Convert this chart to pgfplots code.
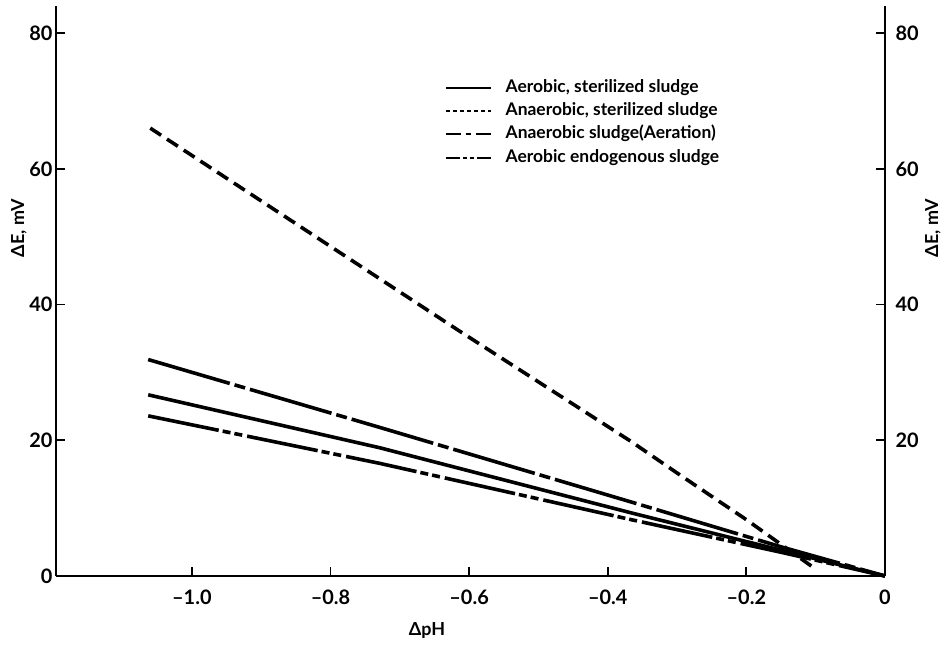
\documentclass[border=0pt]{standalone}
\usepackage{pgfplots}
\pgfplotsset{compat=1.18}
\usepackage{fontspec}
\setmainfont{Lato}

\pgfplotstableread{
x y
-1.063 26.7
-0.729 18.9
-0.366 9.3
-0.150 3.8
0 0
}\aerosterile

\pgfplotstableread{
x y
-1.060 66.0
-0.617 36.3
-0.366 19.8
-0.296 14.9
-0.200 8.3
-0.104 1.3
}\anaerosterile

\pgfplotstableread{
x y
-1.063 31.9
-0.729 21.9
-0.366 10.9
-0.150 4.3
0 0
}\anaeroaeration

\pgfplotstableread{
x y
-1.063 23.6
-0.729 16.6
-0.366 8.3
-0.150 3.5
0 0
}\aeroendo

\begin{document}
\begin{tikzpicture}
\useasboundingbox (-56bp,-69bp) rectangle (892bp,576bp);
\begin{axis}[
  scale only axis, width=829bp, height=570bp,
  xmin=-1.196, xmax=0, ymin=0, ymax=84,
  axis x line*=bottom, axis y line*=left,
  axis line style={line width=2.6bp, -},
  tick align=inside, major tick length=9bp,
  tick style={line width=1.8bp, black},
  xtick={-1,-0.8,-0.6,-0.4,-0.2,0},
  xticklabels={\textendash1.0,\textendash0.8,\textendash0.6,\textendash0.4,\textendash0.2,0},
  ytick={0,20,40,60,80}, yticklabels={0,20,40,60,80},
  tick label style={font=\fontsize{20}{24}\selectfont\bfseries},
  xticklabel style={yshift=-10bp},
  label style={font=\fontsize{18}{22}\selectfont\bfseries},
  xlabel={ΔpH},
  xlabel style={at={(axis description cs:0.4475,0)}, anchor=center, yshift=-55bp},
  ylabel={ΔE, mV},
  ylabel style={at={([xshift=-37bp]axis description cs:0,0.61)}, anchor=center},
  clip=false,
  legend style={at={(axis description cs:0.4656,0.878)}, anchor=north west, draw=none, fill=none,
    font=\fontsize{17.5}{21}\selectfont\bfseries, row sep=3.3bp,
    nodes={inner sep=1.5bp, text height=13bp, text depth=4bp},
    /tikz/every odd column/.append style={column sep=12bp}},
  legend cell align=left,
]
\addplot[black, line width=3.6bp, forget plot] table {\aerosterile};
\addplot[black, line width=3.6bp, dash pattern=on 13bp off 7bp, forget plot] table {\anaerosterile};
\addplot[black, line width=3.6bp, dash pattern=on 85bp off 5bp on 11bp off 5bp, forget plot] table {\anaeroaeration};
\addplot[black, line width=3.6bp, dash pattern=on 72bp off 4bp on 8bp off 4bp on 8bp off 5bp, forget plot] table {\aeroendo};

\addlegendimage{legend image code/.code={\draw[black, line width=2bp] (0bp,0bp) -- (45bp,0bp);}}
\addlegendentry{Aerobic, sterilized sludge}
\addlegendimage{legend image code/.code={\draw[black, line width=2bp, dash pattern=on 4bp off 3bp] (0bp,0bp) -- (45bp,0bp);}}
\addlegendentry{Anaerobic, sterilized sludge}
\addlegendimage{legend image code/.code={\draw[black, line width=2bp, dash pattern=on 15bp off 5bp on 5bp off 5bp] (0bp,0bp) -- (45bp,0bp);}}
\addlegendentry{Anaerobic sludge(Aeration)}
\addlegendimage{legend image code/.code={\draw[black, line width=2bp, dash pattern=on 14bp off 3bp on 4bp off 3bp on 4bp off 3bp] (0bp,0bp) -- (45bp,0bp);}}
\addlegendentry{Aerobic endogenous sludge}
\end{axis}
\begin{axis}[
  scale only axis, width=829bp, height=570bp,
  xmin=-1.196, xmax=0, ymin=0, ymax=84,
  axis x line=none, axis y line*=right,
  axis line style={line width=2.6bp, -},
  tick align=inside, major tick length=9bp,
  tick style={line width=1.8bp, black},
  ytick={20,40,60,80}, yticklabels={20,40,60,80},
  tick label style={font=\fontsize{20}{24}\selectfont\bfseries},
  yticklabel style={xshift=7bp},
  label style={font=\fontsize{18}{22}\selectfont\bfseries},
  ylabel={ΔE, mV},
  ylabel style={at={([xshift=48bp]axis description cs:1,0.61)}, anchor=center},
]
\end{axis}
\end{tikzpicture}
\end{document}
